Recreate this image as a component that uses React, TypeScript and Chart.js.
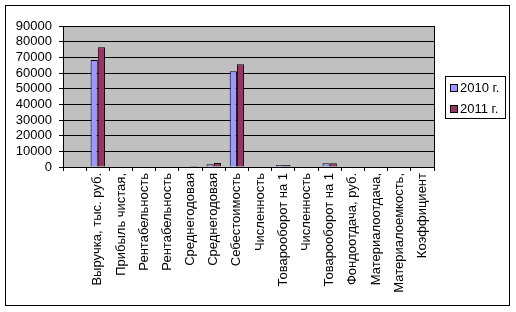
import React, { useEffect, useRef } from "react";
import { Chart, registerables } from "chart.js";

Chart.register(...registerables);

const categories: string[] = [
  "",
  "Выручка, тыс. руб.",
  "Прибыль чистая,",
  "Рентабельность",
  "Рентабельность",
  "Среднегодовая",
  "Среднегодовая",
  "Себестоимость",
  "Численность",
  "Товарооборот на 1",
  "Численность",
  "Товарооборот на 1",
  "Фондоотдача, руб.",
  "Материалоотдача,",
  "Материалоемкость,",
  "Коэффициент",
];

const series2010: number[] = [0, 68300, 0, 0, 0, 550, 1750, 61100, 0, 1250, 0, 2400, 0, 0, 0, 0];
const series2011: number[] = [0, 76500, 0, 0, 0, 600, 2500, 65600, 0, 1300, 0, 2450, 0, 0, 0, 0];

const seriesNames: string[] = ["2010 г.", "2011 г."];
const seriesColors: string[] = ["#9999FF", "#993366"];
const yTicksMax = 90000;
const yTicksStep = 10000;

const FONT = "'Liberation Sans', Arial, sans-serif";

export default function App() {
  const ref = useRef<HTMLCanvasElement | null>(null);

  useEffect(() => {
    if (!ref.current) return;
    const framePlugin = {
      id: "frame",
      beforeDraw(chart: any) {
        const { ctx, chartArea } = chart;
        ctx.save();
        ctx.fillStyle = "#ffffff";
        ctx.fillRect(0, 0, chart.width, chart.height);
        ctx.fillStyle = "#C0C0C0";
        ctx.fillRect(chartArea.left, chartArea.top, chartArea.right - chartArea.left, chartArea.bottom - chartArea.top);
        ctx.restore();
      },
      afterDraw(chart: any) {
        const { ctx, chartArea } = chart;
        ctx.save();
        ctx.strokeStyle = "#000";
        ctx.lineWidth = 1;
        ctx.strokeRect(5.5, 5.5, 504, 300);
        ctx.strokeRect(
          Math.round(chartArea.left) + 0.5,
          Math.round(chartArea.top) + 0.5,
          Math.round(chartArea.right - chartArea.left),
          Math.round(chartArea.bottom - chartArea.top)
        );
        ctx.fillStyle = "#fff";
        ctx.fillRect(445.5, 76.5, 60, 42);
        ctx.strokeRect(445.5, 76.5, 60, 42);
        ctx.font = "13px " + FONT;
        ctx.textBaseline = "middle";
        ctx.textAlign = "left";
        const ys = [88, 109];
        chart.data.datasets.forEach((ds: any, i: number) => {
          const y = ys[i];
          ctx.fillStyle = ds.backgroundColor;
          ctx.fillRect(450.5, y - 3.5, 7, 7);
          ctx.strokeStyle = "#000";
          ctx.strokeRect(450.5, y - 3.5, 7, 7);
          ctx.fillStyle = "#000";
          ctx.fillText(ds.label, 460, y + 0.5);
        });
        ctx.restore();
      },
    };

    const chart = new Chart(ref.current, {
      type: "bar",
      data: {
        labels: categories,
        datasets: [
          {
            label: seriesNames[0],
            data: series2010,
            backgroundColor: seriesColors[0],
            borderColor: "#000",
            borderWidth: 1,
            barPercentage: 1,
            categoryPercentage: 0.62,
          },
          {
            label: seriesNames[1],
            data: series2011,
            backgroundColor: seriesColors[1],
            borderColor: "#000",
            borderWidth: 1,
            barPercentage: 1,
            categoryPercentage: 0.62,
          },
        ],
      },
      options: {
        animation: false,
        responsive: false,
        devicePixelRatio: 1,
        layout: { padding: { left: 0, top: 26, right: 82, bottom: 0 } },
        plugins: {
          legend: { display: false },
          tooltip: { enabled: false },
        },
        scales: {
          x: {
            grid: {
              display: true,
              offset: true,
              drawOnChartArea: false,
              drawTicks: true,
              tickLength: 4,
              color: "#000",
            },
            border: { display: true, color: "#000" },
            ticks: {
              autoSkip: false,
              maxRotation: 90,
              minRotation: 90,
              padding: 2,
              color: "#000",
              font: { family: FONT, size: 13 },
            },
            afterFit(scale: any) {
              scale.height = 145;
            },
          },
          y: {
            min: 0,
            max: yTicksMax,
            grid: {
              color: "#000",
              drawTicks: true,
              tickLength: 4,
            },
            border: { display: true, color: "#000" },
            ticks: {
              stepSize: yTicksStep,
              autoSkip: false,
              padding: 7,
              color: "#000",
              font: { family: FONT, size: 13 },
              callback: (v: any) => String(v),
            },
            afterFit(scale: any) {
              scale.width = 63;
            },
          },
        },
      },
      plugins: [framePlugin],
    });
    return () => chart.destroy();
  }, []);

  return (
    <div style={{ position: "absolute", left: 0, top: 0, width: 516, height: 312 }}>
      <canvas ref={ref} width={516} height={312} style={{ display: "block" }} />
    </div>
  );
}
